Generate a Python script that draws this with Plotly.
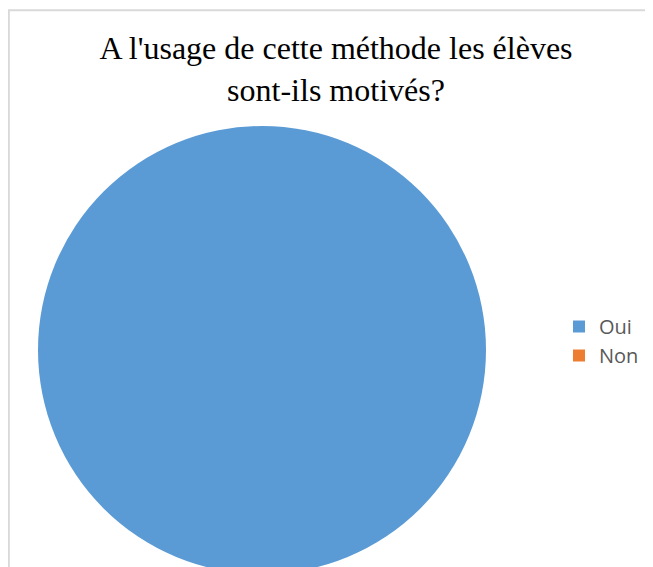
import plotly.graph_objects as go

labels = ["Oui", "Non"]
values = [100, 0]
colors = ["#5B9BD5", "#ED7D31"]
title_text = "A l'usage de cette méthode les élèves<br>sont-ils motivés?"

# figure size (page body has an 8px margin, so coordinates are screen - 8)
W, H = 645, 570
L, T = 30, 118
D = 448  # pie domain size in px
R, B = W - L - D, H - T - D

fig = go.Figure(
    go.Pie(
        labels=labels,
        values=values,
        marker=dict(colors=colors, line=dict(width=0)),
        textinfo="none",
        sort=False,
        direction="clockwise",
        hoverinfo="label+percent",
    )
)

def px_x(p):
    return (p - L) / D
def px_y(p):
    return 1 - (p - T) / D

fig.update_layout(
    width=W,
    height=H,
    margin=dict(l=L, r=R, t=T, b=B),
    paper_bgcolor="white",
    plot_bgcolor="white",
    title=dict(
        text=title_text,
        font=dict(family="Liberation Serif", size=32, color="#000000"),
        x=328 / W,
        xanchor="center",
        xref="container",
        yref="container",
        y=1 - 51 / H,
        yanchor="top",
    ),
    showlegend=True,
    legend=dict(
        xref="container",
        yref="container",
        x=551 / W,
        xanchor="left",
        y=1 - 333 / H,
        yanchor="middle",
        font=dict(family="Open Sans", size=20, color="#595959"),
        bgcolor="rgba(0,0,0,0)",
    ),
    shapes=[
        dict(
            type="rect",
            xref="paper",
            yref="paper",
            x0=px_x(0.8),
            x1=px_x(W + 50),
            y0=px_y(H + 50),
            y1=px_y(2.3),
            line=dict(color="#D9D9D9", width=2),
            fillcolor="rgba(0,0,0,0)",
            layer="below",
        )
    ],
)

fig.write_html("out.html")
